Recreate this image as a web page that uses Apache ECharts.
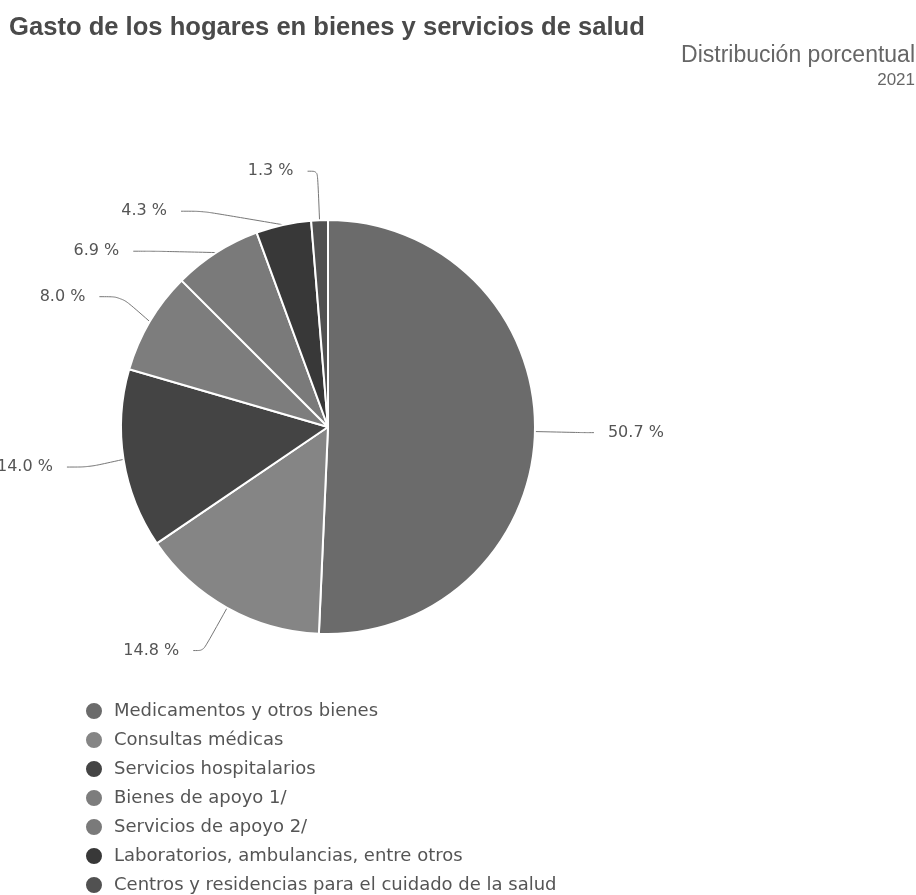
<!DOCTYPE html>
<html>
<head>
<meta charset="utf-8">
<script src="https://cdn.jsdelivr.net/npm/echarts@6/dist/echarts.min.js"></script>
<style>
html, body { margin: 0; padding: 0; background: #ffffff; }
#chart { width: 916px; height: 895px; }
</style>
</head>
<body>
<div id="chart"></div>
<script>
// ---- Data ----
const titleText = 'Gasto de los hogares en bienes y servicios de salud';
const subtitleText = 'Distribución porcentual';
const yearText = '2021';

const categories = [
  'Medicamentos y otros bienes',
  'Consultas médicas',
  'Servicios hospitalarios',
  'Bienes de apoyo 1/',
  'Servicios de apoyo 2/',
  'Laboratorios, ambulancias, entre otros',
  'Centros y residencias para el cuidado de la salud'
];
const values = [50.7, 14.8, 14.0, 8.0, 6.9, 4.3, 1.3];

// ---- Styling (kept apart from the data) ----
const sliceColors = ['#6b6b6b', '#858585', '#444444', '#7d7d7d', '#7a7a7a', '#383838', '#515151'];
const connectorTail = [10, 10, 22, 22, 22, 22, 10];

const chart = echarts.init(document.getElementById('chart'), null, { renderer: 'canvas' });

const pieData = categories.map((name, i) => ({
  name: name,
  value: values[i],
  itemStyle: { color: sliceColors[i] },
  labelLine: { length2: connectorTail[i] }
}));

chart.setOption({
  animation: false,
  backgroundColor: '#ffffff',
  title: [
    {
      text: titleText,
      left: 9, top: 15, padding: 0,
      textStyle: { fontFamily: 'Liberation Sans, Arial, sans-serif', fontSize: 25.6, fontWeight: 'bold', color: '#4a4a4a' }
    },
    {
      text: subtitleText,
      right: 1, top: 44, padding: 0,
      textStyle: { fontFamily: 'Liberation Sans, Arial, sans-serif', fontSize: 23, fontWeight: 'normal', color: '#666666' }
    },
    {
      text: yearText,
      right: 1, top: 72, padding: 0,
      textStyle: { fontFamily: 'Liberation Sans, Arial, sans-serif', fontSize: 17, fontWeight: 'normal', color: '#666666' }
    }
  ],
  legend: {
    orient: 'vertical',
    left: 84, top: 701, height: 240, padding: 0,
    icon: 'circle',
    itemWidth: 30, itemHeight: 18, itemGap: 9,
    selectedMode: false,
    textStyle: { fontFamily: 'DejaVu Sans, Verdana, sans-serif', fontSize: 18, lineHeight: 18, color: '#555555' },
    data: categories
  },
  series: [{
    type: 'pie',
    left: -40, top: 0, right: 0, bottom: 0,
    center: [368, 427],
    radius: 207,
    startAngle: 90,
    clockwise: true,
    avoidLabelOverlap: true,
    data: pieData,
    itemStyle: { borderColor: '#ffffff', borderWidth: 2 },
    label: {
      show: true,
      position: 'outside',
      formatter: p => p.value.toFixed(1) + ' %',
      fontFamily: 'DejaVu Sans, Verdana, sans-serif',
      fontSize: 16,
      color: '#555555',
      lineHeight: 30,
      padding: [8, 0, 0, 0],
      distanceToLabelLine: 14,
      bleedMargin: 0
    },
    labelLine: {
      show: true,
      length: 49,
      length2: 10,
      smooth: 0.3,
      lineStyle: { color: '#777777', width: 1 }
    },
    emphasis: { disabled: true }
  }]
});
</script>
</body>
</html>
